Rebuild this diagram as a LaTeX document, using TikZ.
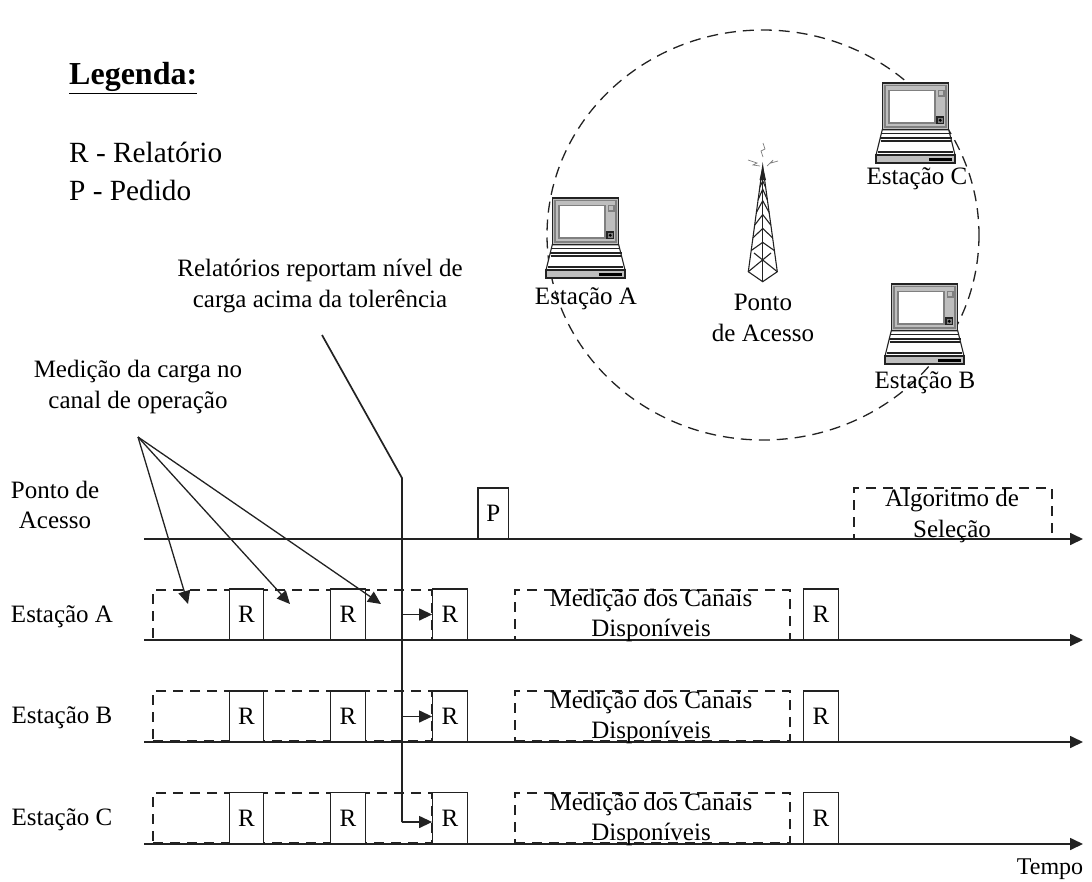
\documentclass[tikz,border=0pt]{standalone}
\usepackage{fontspec}
\setmainfont{Liberation Serif}
\usetikzlibrary{arrows.meta,calc,shapes.geometric}
\definecolor{ink}{HTML}{222222}
\definecolor{laptopgrey}{HTML}{BEBEBE}
\tikzset{
  wire/.style={draw=ink,line width=1.7pt},
  thin wire/.style={draw=ink,line width=1.3pt},
  tip/.style={-{Triangle[length=13pt,width=12pt]}},
  rbox/.style={draw=ink,fill=white,line width=1.3pt,minimum width=34.5pt,minimum height=51pt,inner sep=0pt,font=\fontsize{25}{28}\selectfont},
  pbox/.style={rbox,minimum width=30.5pt},
  dbox/.style={draw=ink,line width=1.3pt,dash pattern=on 10pt off 7pt,inner sep=0pt},
  txt/.style={inner sep=0pt,align=center,font=\fontsize{25}{30.5}\selectfont},
  big/.style={inner sep=0pt,anchor=west,font=\fontsize{29.3}{34}\selectfont},
  laptop/.pic={
    \begin{scope}[line width=1.1pt,draw=ink]
      \filldraw[fill=white] (6.3,46.7) -- (72.7,46.7) -- (79,72) -- (0,72) -- cycle;
      \draw (5.5,50.5) -- (73.5,50.5) (3.5,55) -- (75.5,55);
      \draw (4.5,58) -- (74.5,58) (2,69) -- (77,69);
      \filldraw[fill=laptopgrey,line width=1.4pt] (6.3,0) rectangle (72.7,46.7);
      \filldraw[fill=laptopgrey,draw=gray] (9,2.5) rectangle (70,44);
      \filldraw[fill=white,draw=gray] (13,7.5) rectangle (59,40);
      \filldraw[fill=laptopgrey,draw=gray] (62.5,7.5) rectangle (68,13);
      \filldraw[fill=gray] (61,34) rectangle (67.5,40.5);
      \fill[black] (64.2,37.2) circle (1.6);
      \filldraw[fill=laptopgrey] (0,72) rectangle (79,80);
      \fill[black] (52.5,75) rectangle (76,78.3);
    \end{scope}
  },
}
\begin{document}
\begin{tikzpicture}[x=1pt,y=-1pt]
\useasboundingbox (0,0) rectangle (1092,881);
% coverage circle
\draw[ink,line width=1.3pt,dash pattern=on 11pt off 7pt] (763,235) ellipse [x radius=216,y radius=205];
% laptops
\pic at (546,198) {laptop};
\pic at (876,83) {laptop};
\pic at (885,284) {laptop};
% tower
\begin{scope}[ink,line width=1.1pt]
  \fill (762.7,166) -- (759.5,180) -- (766,180) -- cycle;
  \draw (762.7,166) -- (748.3,271.7) -- (762.7,281.7) -- (777.3,271.7) -- cycle;
  \draw (762.7,166) -- (762.7,281.7);
  \foreach \t/\f in {0.2/0.13,0.32/0.2,0.44/0.3,0.56/0.42,0.68/0.54,0.8/0.66} {
    \draw ($(762.7,166)!\t!(748.3,271.7)$) -- ($(762.7,166)!\f!(762.7,281.7)$) -- ($(762.7,166)!\t!(777.3,271.7)$);
  }
  \draw (748.3,271.7) -- (771,253) (777.3,271.7) -- (754,253);
  \draw[gray,line width=0.7pt] (763,143) -- (765,149) -- (761,151) -- (763,157);
  \draw[gray,line width=0.7pt] (748,160) -- (757,163) -- (753,165) -- (760,166);
  \draw[gray,line width=0.7pt] (778,161) -- (771,163) -- (773,160) -- (767,166);
\end{scope}
% legend
\node[big,font=\bfseries\fontsize{32}{36}\selectfont] (leg) at (69,78) {\underline{Legenda:}};
\node[big] (lr) at (69,152) {R - Relatório};
\node[big] (lp) at (69,190) {P - Pedido};
% station labels in the network
\node[txt] (ea) at (586,299) {Estação A};
\node[txt] (ec) at (917,179) {Estação C};
\node[txt] (eb) at (925,383) {Estação B};
\node[txt] (pa) at (763,318) {Ponto\\de Acesso};
% annotations
\node[txt] (rep) at (320,286) {Relatórios reportam nível de\\carga acima da tolerência};
\node[txt] (med) at (138,387) {Medição da carga no\\canal de operação};
% row labels
\node[txt] (lpa) at (55,505) {Ponto de\\Acesso};
\node[txt] (la) at (62,617) {Estação A};
\node[txt] (lb) at (62,718) {Estação B};
\node[txt] (lc) at (62,820) {Estação C};
\node[txt,font=\fontsize{24}{28}\selectfont] (tempo) at (1050,869) {Tempo};
% dashed measurement boxes
\foreach \n/\y in {a/615,b/716,c/818} {
  \node[dbox,minimum width=279pt,minimum height=50pt] (da\n) at (292.5,\y) {};
  \node[dbox,minimum width=275pt,minimum height=50pt] (db\n) at (652.5,\y) {};
}
\node[dbox,minimum width=198pt,minimum height=51pt] (alg) at (953,513.5) {};
% timeline axes
\foreach \n/\y in {p/539,a/640,b/742,c/844} {
  \coordinate (s\n) at (144,\y);
  \coordinate (e\n) at (1083,\y);
  \draw[wire,tip] (s\n) -- (e\n);
}
% boxes
\node[pbox] (P) at (493.2,513.5) {P};
\foreach \n/\y in {a/614.5,b/716.5,c/818} {
  \node[rbox] (r1\n) at (246.5,\y) {R};
  \node[rbox] (r2\n) at (348,\y) {R};
  \node[rbox] (r3\n) at (450,\y) {R};
  \node[rbox] (r4\n) at (821,\y) {R};
  \node[txt] (m1\n) at (651,\y-14) {Medição dos Canais};
  \node[txt] (m2\n) at (651,\y+16) {Disponíveis};
}
\node[txt] (alg1) at (952,501) {Algoritmo de};
\node[txt] (alg2) at (952,531) {Seleção};
% report connector
\coordinate (rs) at (322,335);
\coordinate (rb) at (402,478);
\coordinate (rc) at (402,822);
\draw[wire] (rs) -- (rb) -- (rc);
\foreach \n in {a,b} {
  \coordinate (j\n) at (rb |- r3\n.west);
  \draw[thin wire,tip] (j\n) -- (r3\n.west);
}
\draw[thin wire,tip] (rc) -- (r3c.west |- rc);
% measurement arrows
\coordinate (ms) at (138,437);
\coordinate (t1) at (188,604);
\coordinate (t2) at (290,604);
\coordinate (t3) at (381,604);
\foreach \t in {t1,t2,t3} \draw[thin wire,tip] (ms) -- (\t);
\end{tikzpicture}
\end{document}
